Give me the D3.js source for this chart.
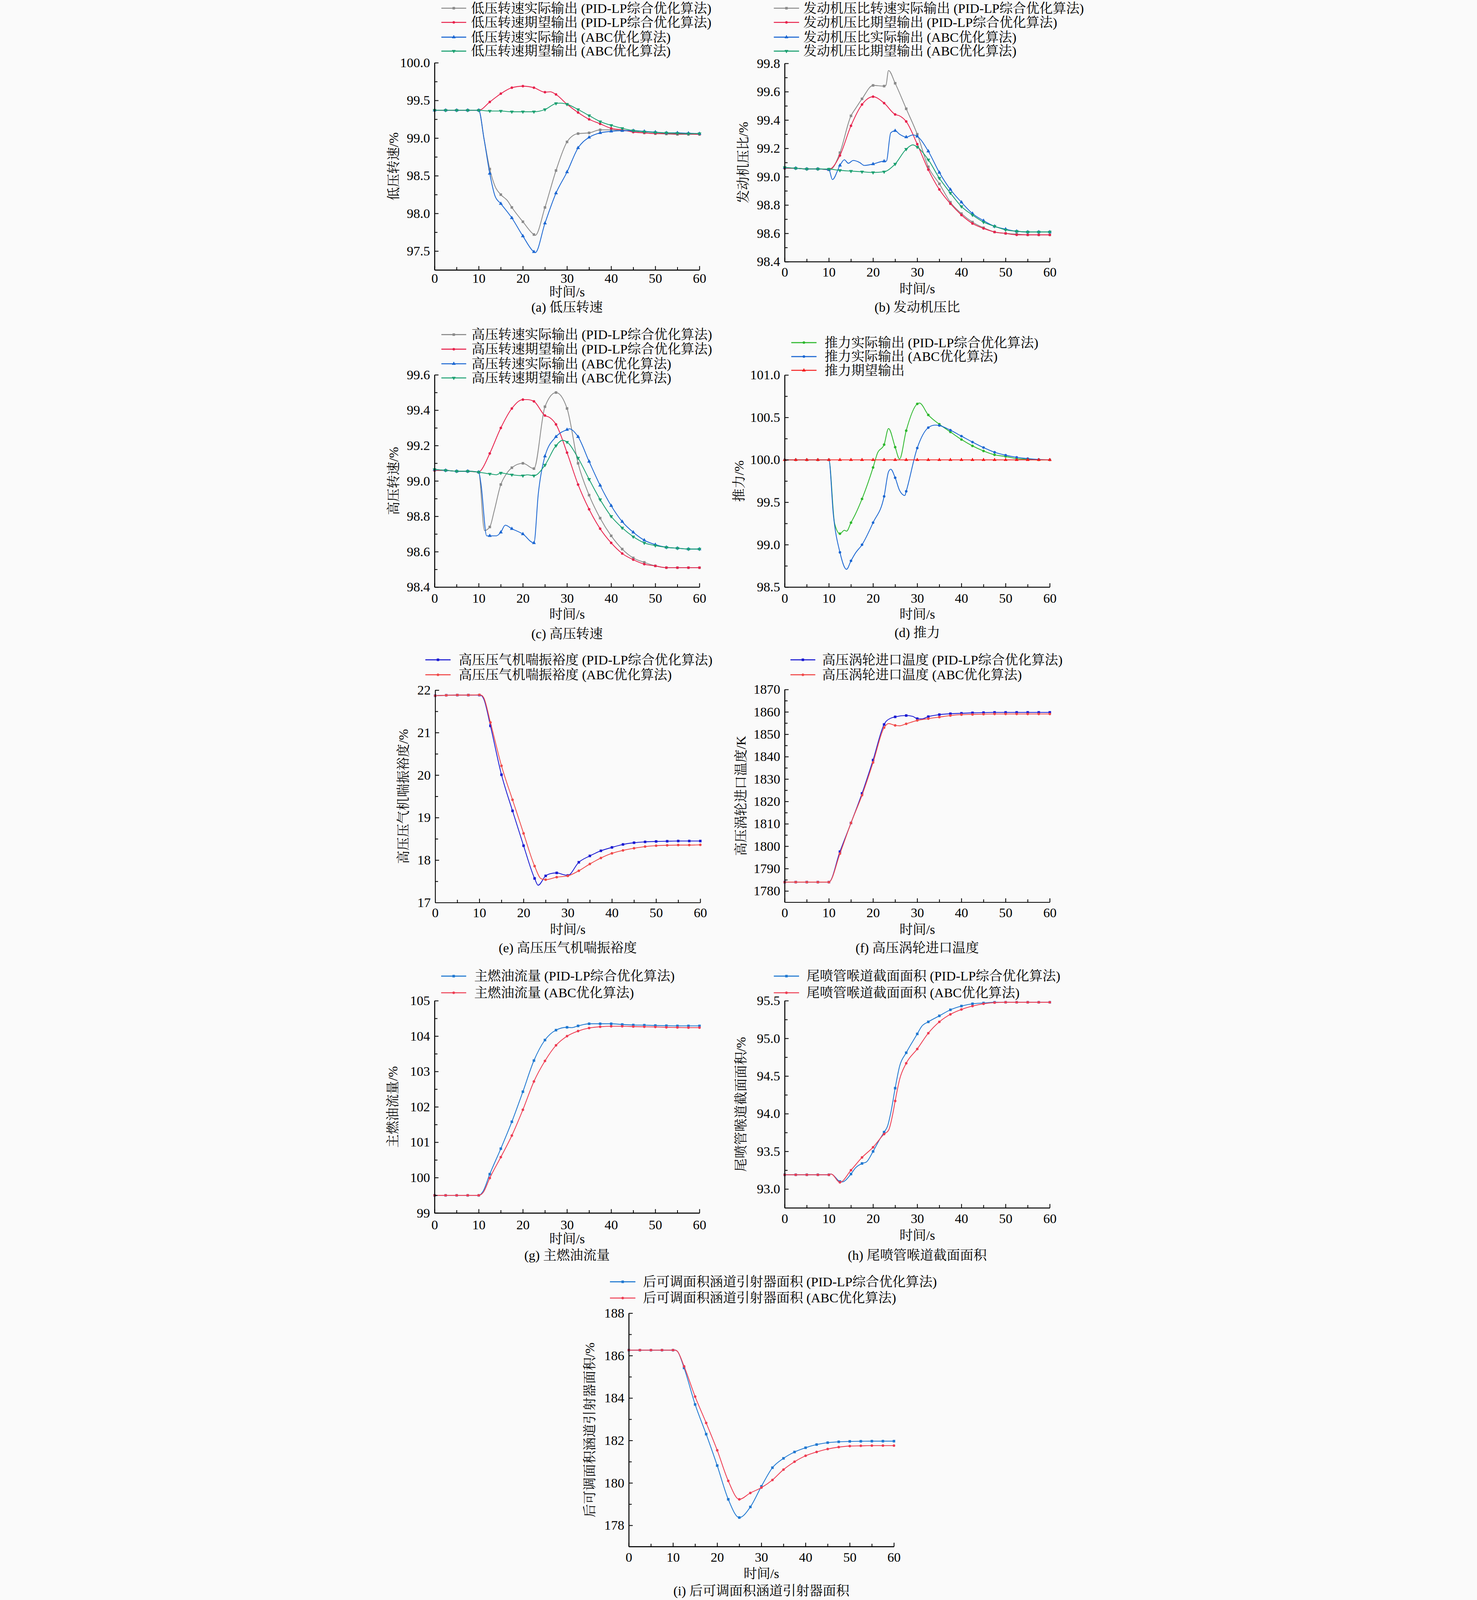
<!DOCTYPE html>
<html>
<head>
<meta charset="utf-8">
<script src="https://cdn.jsdelivr.net/npm/d3@7"></script>
<style>
  html, body { margin: 0; padding: 0; background: #fafafa; overflow: hidden; }
  svg { display: block; }
  svg text { font-family: "Liberation Serif", "Times New Roman", "Noto Serif CJK SC", "Noto Sans CJK SC", serif; fill: #000; }
</style>
</head>
<body>
<svg id="chart"></svg>
<script>
// ---- data ----
const timeTicks = [0, 10, 20, 30, 40, 50, 60];

// (a) 低压转速
const aTicks = [97.5, 98.0, 98.5, 99.0, 99.5, 100.0];
const aPidAct = [[0,99.37],[2.5,99.37],[5,99.37],[7.5,99.37],[10,99.37],[11.2,98.99],[12.5,98.59],[13.7,98.36],[15,98.25],[16.5,98.17],[17.5,98.08],[20,97.89],[22.5,97.72],[22.8,97.71],[25,98.08],[27.5,98.57],[30,98.95],[31.5,99.04],[32.5,99.06],[35,99.07],[37.5,99.11],[40,99.11],[42.5,99.10],[45,99.09],[47.5,99.07],[50,99.06],[52.5,99.055],[55,99.05],[57.5,99.05],[60,99.05]];
const aPidExp = [[0,99.37],[2.5,99.37],[5,99.37],[7.5,99.37],[10,99.37],[12.5,99.48],[15,99.59],[17.5,99.67],[20,99.69],[22.5,99.67],[25,99.61],[26.2,99.615],[27.5,99.58],[30,99.45],[32.5,99.34],[35,99.25],[37.5,99.19],[40,99.13],[42.5,99.11],[45,99.08],[47.5,99.07],[50,99.06],[52.5,99.06],[55,99.055],[57.5,99.055],[60,99.05]];
const aAbcAct = [[0,99.37],[2.5,99.37],[5,99.37],[7.5,99.37],[10,99.37],[11.2,98.99],[12.5,98.53],[13.7,98.23],[15,98.13],[17.5,97.94],[20,97.70],[22.5,97.49],[22.8,97.48],[25,97.87],[27.5,98.27],[30,98.55],[32.5,98.87],[35,99.01],[37.5,99.07],[40,99.09],[42.5,99.10],[45,99.10],[47.5,99.09],[50,99.08],[52.5,99.07],[55,99.07],[57.5,99.065],[60,99.06]];
const aAbcExp = [[0,99.37],[2.5,99.37],[5,99.37],[7.5,99.37],[10,99.37],[12.5,99.36],[15,99.36],[17.5,99.35],[20,99.35],[22.5,99.35],[25,99.38],[27.5,99.46],[28.5,99.465],[30,99.45],[32.5,99.38],[35,99.30],[37.5,99.22],[40,99.17],[42.5,99.13],[45,99.10],[47.5,99.085],[50,99.075],[52.5,99.07],[55,99.065],[57.5,99.06],[60,99.06]];

// (b) 发动机压比
const bTicks = [98.4, 98.6, 98.8, 99.0, 99.2, 99.4, 99.6, 99.8];
const bPidAct = [[0,99.06],[2.5,99.06],[5,99.055],[7.5,99.055],[10,99.05],[10.8,99.06],[12.5,99.17],[15,99.43],[16,99.48],[17.5,99.55],[20,99.645],[22.5,99.64],[22.9,99.645],[23.5,99.75],[25,99.66],[27.5,99.48],[30,99.30],[32.5,99.07],[35,98.95],[37.5,98.82],[40,98.74],[42.5,98.68],[45,98.64],[47.5,98.61],[50,98.60],[52.5,98.595],[55,98.59],[57.5,98.59],[60,98.59]];
const bPidExp = [[0,99.06],[2.5,99.06],[5,99.055],[7.5,99.055],[10,99.05],[10.6,99.06],[12.5,99.15],[15,99.36],[17.5,99.51],[20,99.565],[22.5,99.52],[25,99.44],[26,99.43],[27.5,99.39],[30,99.23],[32.5,99.05],[35,98.91],[37.5,98.81],[40,98.73],[42.5,98.67],[45,98.635],[47.5,98.61],[50,98.60],[52.5,98.59],[55,98.59],[57.5,98.59],[60,98.59]];
const bAbcAct = [[0,99.065],[2.5,99.06],[5,99.055],[7.5,99.055],[10,99.05],[10.8,98.98],[12.5,99.08],[13.5,99.12],[14.4,99.095],[15.5,99.115],[17,99.10],[18,99.08],[20,99.09],[22.5,99.11],[23,99.11],[24,99.31],[25,99.325],[26,99.30],[27.5,99.28],[29,99.295],[30,99.285],[32.5,99.18],[35,99.03],[37.5,98.91],[40,98.82],[42.5,98.74],[45,98.69],[47.5,98.65],[50,98.63],[52.5,98.615],[55,98.61],[57.5,98.61],[60,98.61]];
const bAbcExp = [[0,99.065],[2.5,99.06],[5,99.055],[7.5,99.055],[10,99.054],[12.5,99.045],[15,99.04],[17.5,99.035],[20,99.03],[22.5,99.035],[23,99.04],[25,99.09],[27.5,99.195],[29,99.225],[30,99.21],[32.5,99.12],[35,98.99],[37.5,98.885],[40,98.79],[42.5,98.73],[45,98.68],[47.5,98.65],[50,98.625],[52.5,98.615],[55,98.61],[57.5,98.61],[60,98.61]];

// (c) 高压转速
const cTicks = [98.4, 98.6, 98.8, 99.0, 99.2, 99.4, 99.6];
const cPidAct = [[0,99.06],[2.5,99.06],[5,99.055],[7.5,99.055],[10,99.05],[11.3,98.72],[12.5,98.74],[13.5,98.83],[15,98.98],[16,99.03],[17.5,99.075],[20,99.10],[22.5,99.07],[25,99.42],[27.5,99.50],[30,99.41],[32.5,99.10],[35,98.92],[37.5,98.79],[40,98.69],[42.5,98.615],[45,98.565],[47.5,98.54],[50,98.52],[52.5,98.51],[55,98.51],[57.5,98.51],[60,98.51]];
const cPidExp = [[0,99.06],[2.5,99.06],[5,99.055],[7.5,99.055],[10,99.05],[10.5,99.06],[12.5,99.156],[15,99.30],[17.5,99.41],[20,99.46],[21,99.46],[22.5,99.45],[25,99.37],[26,99.36],[27.5,99.32],[30,99.16],[32.5,98.98],[35,98.84],[37.5,98.73],[40,98.65],[42.5,98.59],[45,98.555],[47.5,98.53],[50,98.52],[52.5,98.51],[55,98.51],[57.5,98.51],[60,98.51]];
const cAbcAct = [[0,99.065],[2.5,99.06],[5,99.055],[7.5,99.055],[10,99.05],[10.5,98.985],[11.8,98.69],[12.5,98.69],[14,98.69],[15,98.71],[16,98.75],[17.5,98.73],[20,98.70],[22.5,98.65],[23.5,98.93],[25,99.14],[27.5,99.25],[30,99.29],[30.5,99.295],[32.5,99.25],[35,99.11],[37.5,98.975],[40,98.86],[42.5,98.77],[45,98.71],[47.5,98.665],[50,98.64],[52.5,98.625],[55,98.62],[57.5,98.615],[60,98.615]];
const cAbcExp = [[0,99.065],[2.5,99.06],[5,99.055],[7.5,99.055],[10,99.05],[12.5,99.04],[14,99.035],[15,99.045],[17.5,99.035],[20,99.03],[21,99.035],[22.5,99.03],[25,99.09],[27.5,99.20],[29,99.23],[30,99.22],[32.5,99.13],[35,99.01],[37.5,98.895],[40,98.80],[42.5,98.735],[45,98.685],[47.5,98.65],[50,98.635],[52.5,98.625],[55,98.62],[57.5,98.615],[60,98.615]];

// (d) 推力
const dTicks = [98.5, 99.0, 99.5, 100.0, 100.5, 101.0];
const dPidAct = [[0,100],[2.5,100],[5,100],[7.5,100],[10,100],[11.3,99.25],[12.5,99.13],[13.5,99.17],[14,99.16],[15,99.26],[16,99.36],[17.5,99.54],[20,99.91],[21,100.08],[22.5,100.18],[23.5,100.37],[25,100.15],[26,100.01],[27.5,100.345],[30,100.66],[30.5,100.67],[32.5,100.53],[35,100.42],[37.5,100.33],[40,100.24],[42.5,100.165],[45,100.105],[47.5,100.06],[50,100.04],[52.5,100.015],[55,100.007],[57.5,100],[60,100]];
const dAbcAct = [[0,100],[2.5,100],[5,100],[7.5,100],[10,100],[11,99.36],[12.5,98.91],[14,98.71],[15,98.81],[16,98.90],[17.5,99.0],[20,99.26],[22.5,99.57],[23.5,99.86],[24,99.89],[25,99.79],[26,99.64],[27.2,99.58],[27.5,99.63],[30,100.14],[32.5,100.38],[34,100.41],[35,100.405],[37.5,100.35],[40,100.28],[42.5,100.21],[45,100.145],[47.5,100.09],[50,100.055],[52.5,100.03],[55,100.015],[57.5,100.005],[60,100]];
const dExp = [[0,100],[2.5,100],[5,100],[7.5,100],[10,100],[12.5,100],[15,100],[17.5,100],[20,100],[22.5,100],[25,100],[27.5,100],[30,100],[32.5,100],[35,100],[37.5,100],[40,100],[42.5,100],[45,100],[47.5,100],[50,100],[52.5,100],[55,100],[57.5,100],[60,100]];

// (e) 高压压气机喘振裕度
const eTicks = [17, 18, 19, 20, 21, 22];
const ePid = [[0,21.87],[2.5,21.88],[5,21.885],[7.5,21.885],[10,21.885],[10.5,21.87],[11,21.79],[12.5,21.16],[15,20.01],[17.5,19.16],[20,18.34],[22.5,17.57],[23.3,17.41],[25,17.63],[26,17.68],[27.5,17.70],[29,17.66],[30,17.64],[32.5,17.95],[35,18.10],[37.5,18.22],[40,18.30],[42.5,18.37],[45,18.41],[47.5,18.43],[50,18.44],[52.5,18.445],[55,18.45],[57.5,18.45],[60,18.45]];
const eAbc = [[0,21.87],[2.5,21.88],[5,21.885],[7.5,21.885],[10,21.89],[10.5,21.88],[11,21.82],[12.5,21.24],[15,20.22],[17.5,19.42],[20,18.63],[22.5,17.86],[24,17.56],[25,17.54],[27.5,17.60],[30,17.63],[32.5,17.75],[35,17.91],[37.5,18.05],[40,18.16],[42.5,18.23],[45,18.28],[47.5,18.32],[50,18.34],[52.5,18.35],[55,18.355],[57.5,18.355],[60,18.36]];

// (f) 高压涡轮进口温度
const fTicks = [1780, 1790, 1800, 1810, 1820, 1830, 1840, 1850, 1860, 1870];
const fPid = [[0,1784],[2.5,1784],[5,1784],[7.5,1784],[10,1784],[12.5,1797.6],[15,1810.4],[17.5,1823.6],[20,1838.5],[22.5,1854.4],[23,1855.9],[25,1857.8],[27.5,1858.4],[29,1858],[30,1857],[31,1856.9],[32.5,1857.9],[35,1858.8],[37.5,1859.2],[40,1859.4],[42.5,1859.6],[45,1859.7],[47.5,1859.8],[50,1859.8],[52.5,1859.8],[55,1859.8],[57.5,1859.8],[60,1859.8]];
const fAbc = [[0,1784],[2.5,1784],[5,1784],[7.5,1784],[10,1784],[12.5,1796.7],[15,1810.4],[17.5,1822.8],[20,1837.4],[22.5,1853.0],[23.5,1854.8],[25,1854.0],[26,1853.8],[27.5,1854.7],[30,1856.2],[32.5,1857.0],[35,1857.7],[37.5,1858.4],[40,1858.8],[42.5,1858.9],[45,1859.0],[47.5,1859.1],[50,1859.1],[52.5,1859.1],[55,1859.1],[57.5,1859.1],[60,1859.1]];

// (g) 主燃油流量
const gTicks = [99, 100, 101, 102, 103, 104, 105];
const gPid = [[0,99.5],[2.5,99.5],[5,99.5],[7.5,99.5],[10,99.5],[11,99.62],[12.5,100.10],[15,100.82],[17.5,101.58],[20,102.43],[22.5,103.31],[25,103.89],[27.5,104.17],[30,104.25],[31,104.24],[32.5,104.29],[35,104.35],[37.5,104.35],[40,104.35],[42.5,104.33],[45,104.315],[47.5,104.31],[50,104.30],[52.5,104.295],[55,104.29],[57.5,104.29],[60,104.29]];
const gAbc = [[0,99.5],[2.5,99.5],[5,99.5],[7.5,99.5],[10,99.5],[11,99.58],[12.5,99.99],[15,100.58],[17.5,101.19],[20,101.92],[22.5,102.72],[25,103.30],[27.5,103.74],[30,104.0],[32.5,104.145],[35,104.23],[37.5,104.265],[40,104.28],[42.5,104.28],[45,104.27],[47.5,104.265],[50,104.26],[52.5,104.25],[55,104.245],[57.5,104.24],[60,104.24]];

// (h) 尾喷管喉道截面面积
const hTicks = [93.0, 93.5, 94.0, 94.5, 95.0, 95.5];
const hPid = [[0,93.19],[2.5,93.19],[5,93.19],[7.5,93.19],[10,93.19],[10.5,93.20],[12.5,93.10],[13,93.095],[15,93.20],[16,93.28],[17.5,93.34],[18.5,93.36],[20,93.50],[21.5,93.66],[22.5,93.756],[23.3,93.84],[24,94.01],[25,94.34],[26,94.63],[27.5,94.81],[30,95.06],[31,95.16],[32.5,95.22],[35,95.30],[37.5,95.38],[40,95.43],[42.5,95.46],[45,95.47],[47.5,95.48],[50,95.48],[52.5,95.48],[55,95.48],[57.5,95.48],[60,95.48]];
const hAbc = [[0,93.19],[2.5,93.19],[5,93.19],[7.5,93.19],[10,93.19],[10.5,93.20],[12.5,93.09],[15,93.25],[17.5,93.42],[20,93.555],[22.5,93.73],[23.5,93.78],[24.5,94.01],[25,94.17],[26,94.455],[27.5,94.67],[30,94.86],[32.5,95.07],[35,95.22],[37.5,95.32],[40,95.385],[42.5,95.43],[45,95.46],[47.5,95.475],[50,95.48],[52.5,95.48],[55,95.48],[57.5,95.48],[60,95.48]];

// (i) 后可调面积涵道引射器面积
const iTicks = [178, 180, 182, 184, 186, 188];
const iPid = [[0,186.26],[2.5,186.26],[5,186.26],[7.5,186.26],[10,186.26],[10.5,186.26],[11,186.2],[12.5,185.42],[15,183.70],[17.5,182.30],[20,180.82],[22.5,179.23],[25,178.37],[27.5,178.87],[30,179.84],[32.5,180.72],[35,181.16],[37.5,181.46],[40,181.66],[42.5,181.81],[45,181.90],[47.5,181.94],[50,181.96],[52.5,181.965],[55,181.97],[57.5,181.97],[60,181.97]];
const iAbc = [[0,186.26],[2.5,186.26],[5,186.26],[7.5,186.26],[10,186.26],[10.5,186.26],[11,186.2],[12.5,185.50],[15,184.07],[17.5,182.83],[20,181.54],[22.5,180.10],[25,179.23],[27.5,179.53],[30,179.78],[32.5,180.14],[35,180.63],[37.5,181.0],[40,181.28],[42.5,181.46],[45,181.60],[47.5,181.69],[50,181.74],[52.5,181.75],[55,181.76],[57.5,181.76],[60,181.76]];

// ---- styles ----
const C = {
  gray: '#8a8a8a', pink: '#e8224c', blue: '#1a66d2', teal: '#1aa070',
  green: '#2db82d', red: '#f51c1c', navy: '#1a1ad2', coral: '#f04a4a',
  sky: '#1f78d1', rose: '#ee3c52',
};
const FS = 65;
const PID = ' (PID-LP综合优化算法)';
const ABC = ' (ABC优化算法)';
const W = 3780, H = 7794;

const panels = [
  { box: [410, 1700, 306, 1315], domain: [97.25, 100], ticks: aTicks, fmt: '.1f', tickPad: 16,
    ylab: '低压转速/%', ylabX: 211, title: 1423, caption: '(a) 低压转速', capY: 1497,
    legend: { rows: [40, 109, 181, 249], line: [443, 564], text: 587 },
    series: [
      { data: aPidAct, color: C.gray, shape: 'square', label: '低压转速实际输出' + PID },
      { data: aPidExp, color: C.pink, shape: 'circle', label: '低压转速期望输出' + PID },
      { data: aAbcAct, color: C.blue, shape: 'up', label: '低压转速实际输出' + ABC },
      { data: aAbcExp, color: C.teal, shape: 'down', label: '低压转速期望输出' + ABC },
    ] },
  { box: [2115, 3406, 309, 1275], domain: [98.4, 99.8], ticks: bTicks, fmt: '.1f', tickPad: 26,
    ylab: '发动机压比/%', ylabX: 1914, title: 1408, caption: '(b) 发动机压比', capY: 1497,
    legend: { rows: [40, 109, 181, 249], line: [2062, 2185], text: 2206 },
    series: [
      { data: bPidAct, color: C.gray, shape: 'square', label: '发动机压比转速实际输出' + PID },
      { data: bPidExp, color: C.pink, shape: 'circle', label: '发动机压比期望输出' + PID },
      { data: bAbcAct, color: C.blue, shape: 'up', label: '发动机压比实际输出' + ABC },
      { data: bAbcExp, color: C.teal, shape: 'down', label: '发动机压比期望输出' + ABC },
    ] },
  { box: [410, 1700, 1826, 2860], domain: [98.4, 99.6], ticks: cTicks, fmt: '.1f', tickPad: 29,
    ylab: '高压转速/%', ylabX: 211, title: 2993, caption: '(c) 高压转速', capY: 3087,
    legend: { rows: [1630, 1701, 1772, 1841], line: [443, 564], text: 590 },
    series: [
      { data: cPidAct, color: C.gray, shape: 'square', label: '高压转速实际输出' + PID },
      { data: cPidExp, color: C.pink, shape: 'circle', label: '高压转速期望输出' + PID },
      { data: cAbcAct, color: C.blue, shape: 'up', label: '高压转速实际输出' + ABC },
      { data: cAbcExp, color: C.teal, shape: 'down', label: '高压转速期望输出' + ABC },
    ] },
  { box: [2115, 3406, 1827, 2860], domain: [98.5, 101.0], ticks: dTicks, fmt: '.1f', tickPad: 29,
    ylab: '推力/%', ylabX: 1892, title: 2993, caption: '(d) 推力', capY: 3082,
    legend: { rows: [1669, 1737, 1804], line: [2147, 2270], text: 2309 },
    series: [
      { data: dPidAct, color: C.green, shape: 'circle', label: '推力实际输出' + PID },
      { data: dAbcAct, color: C.blue, shape: 'circle', label: '推力实际输出' + ABC },
      { data: dExp, color: C.red, shape: 'up', label: '推力期望输出' },
    ] },
  { box: [413, 1704, 3362, 4397], domain: [17, 22], ticks: eTicks, fmt: 'd', tickPad: 25,
    ylab: '高压压气机喘振裕度/%', ylabX: 259, title: 4527, caption: '(e) 高压压气机喘振裕度', capY: 4617,
    legend: { rows: [3214, 3287], line: [365, 488], text: 527 },
    series: [
      { data: ePid, color: C.navy, shape: 'square', label: '高压压气机喘振裕度' + PID },
      { data: eAbc, color: C.coral, shape: 'circle', label: '高压压气机喘振裕度' + ABC },
    ] },
  { box: [2115, 3406, 3359, 4395], domain: [1775, 1870], ticks: fTicks, fmt: 'd', tickPad: 27,
    ylab: '高压涡轮进口温度/K', ylabX: 1902, title: 4527, caption: '(f) 高压涡轮进口温度', capY: 4617,
    legend: { rows: [3214, 3287], line: [2143, 2264], text: 2297 },
    series: [
      { data: fPid, color: C.navy, shape: 'square', label: '高压涡轮进口温度' + PID },
      { data: fAbc, color: C.coral, shape: 'circle', label: '高压涡轮进口温度' + ABC },
    ] },
  { box: [410, 1700, 4875, 5909], domain: [99, 105], ticks: gTicks, fmt: 'd', tickPad: 33,
    ylab: '主燃油流量/%', ylabX: 207, title: 6034, caption: '(g) 主燃油流量', capY: 6115,
    legend: { rows: [4755, 4836], line: [442, 564], text: 603 },
    series: [
      { data: gPid, color: C.sky, shape: 'square', label: '主燃油流量' + PID },
      { data: gAbc, color: C.rose, shape: 'circle', label: '主燃油流量' + ABC },
    ] },
  { box: [2115, 3406, 4875, 5884], domain: [92.75, 95.5], ticks: hTicks, fmt: '.1f', tickPad: 28,
    ylab: '尾喷管喉道截面面积/%', ylabX: 1902, title: 6018, caption: '(h) 尾喷管喉道截面面积', capY: 6115,
    legend: { rows: [4755, 4836], line: [2062, 2185], text: 2221 },
    series: [
      { data: hPid, color: C.sky, shape: 'square', label: '尾喷管喉道截面面积' + PID },
      { data: hAbc, color: C.rose, shape: 'circle', label: '尾喷管喉道截面面积' + ABC },
    ] },
  { box: [1356, 2647, 6397, 7534], domain: [177, 188], ticks: iTicks, fmt: 'd', tickPad: 28,
    ylab: '后可调面积涵道引射器面积/%', ylabX: 1166, title: 7665, caption: '(i) 后可调面积涵道引射器面积', capY: 7749,
    legend: { rows: [6244, 6323], line: [1264, 1388], text: 1425 },
    series: [
      { data: iPid, color: C.sky, shape: 'square', label: '后可调面积涵道引射器面积' + PID },
      { data: iAbc, color: C.rose, shape: 'circle', label: '后可调面积涵道引射器面积' + ABC },
    ] },
];

// the window we get may be shorter than the figure, so fit the whole figure into it
const vw = window.innerWidth || W, vh = window.innerHeight || H;
const svg = d3.select('#chart')
  .attr('width', vw).attr('height', vh)
  .attr('viewBox', `0 0 ${W} ${H}`)
  .attr('preserveAspectRatio', 'xMidYMin meet');
svg.append('rect').attr('width', W).attr('height', H).attr('fill', '#fafafa');

const symbolPath = {
  square: d3.symbol(d3.symbolSquare, 150)(),
  circle: d3.symbol(d3.symbolCircle, 120)(),
  up: d3.symbol(d3.symbolTriangle, 150)(),
  down: d3.symbol(d3.symbolTriangle, 150)(),
};

const midpoints = arr => arr.slice(1).map((v, i) => (v + arr[i]) / 2);
const onGrid = t => Math.abs(t / 2.5 - Math.round(t / 2.5)) < 1e-6;

function marker(g, shape, color, cx, cy) {
  g.append('path')
    .attr('d', symbolPath[shape])
    .attr('transform', `translate(${cx},${cy})` + (shape === 'down' ? ' rotate(180)' : ''))
    .attr('fill', color);
}

function styleAxis(g) {
  g.select('.domain').attr('stroke', '#000').attr('stroke-width', 4);
  g.selectAll('.tick line').attr('stroke', '#000').attr('stroke-width', 4);
  g.selectAll('.tick text').attr('font-size', FS).attr('fill', '#000');
}

panels.forEach(p => {
  const [x0, x1, yTop, yBot] = p.box;
  const x = d3.scaleLinear().domain([0, 60]).range([x0, x1]);
  const y = d3.scaleLinear().domain(p.domain).range([yBot, yTop]);
  const g = svg.append('g');

  // series
  const line = d3.line()
    .x(d => x(d[0]))
    .y(d => y(d[1]))
    .curve(d3.curveMonotoneX);
  p.series.forEach(s => {
    g.append('path')
      .attr('d', line(s.data))
      .attr('fill', 'none')
      .attr('stroke', s.color)
      .attr('stroke-width', 4)
      .attr('stroke-linejoin', 'round');
    s.data.filter(d => onGrid(d[0]))
      .forEach(d => marker(g, s.shape, s.color, x(d[0]), y(d[1])));
  });

  // axes (ticks point inward)
  const minorY = midpoints(p.ticks);
  g.append('g').attr('transform', `translate(${x0},0)`)
    .call(d3.axisLeft(y).tickValues(minorY).tickSize(-14).tickSizeOuter(0).tickFormat(''))
    .call(styleAxis);
  g.append('g').attr('transform', `translate(${x0},0)`)
    .call(d3.axisLeft(y).tickValues(p.ticks).tickSize(-19).tickSizeOuter(0)
      .tickPadding(22).tickFormat(d3.format(p.fmt)))
    .call(styleAxis);
  g.append('g').attr('transform', `translate(0,${yBot})`)
    .call(d3.axisBottom(x).tickValues(midpoints(timeTicks)).tickSize(-14).tickSizeOuter(0).tickFormat(''))
    .call(styleAxis);
  g.append('g').attr('transform', `translate(0,${yBot})`)
    .call(d3.axisBottom(x).tickValues(timeTicks).tickSize(-19).tickSizeOuter(0)
      .tickPadding(p.tickPad).tickFormat(d3.format('d')))
    .call(styleAxis);

  // labels
  g.append('text')
    .attr('transform', `translate(${p.ylabX},${(yTop + yBot) / 2}) rotate(-90)`)
    .attr('text-anchor', 'middle')
    .attr('dominant-baseline', 'central')
    .attr('font-size', FS)
    .text(p.ylab);
  g.append('text')
    .attr('x', (x0 + x1) / 2).attr('y', p.title)
    .attr('text-anchor', 'middle').attr('dominant-baseline', 'central')
    .attr('font-size', FS)
    .text('时间/s');
  g.append('text')
    .attr('x', (x0 + x1) / 2).attr('y', p.capY)
    .attr('text-anchor', 'middle').attr('dominant-baseline', 'central')
    .attr('font-size', FS)
    .text(p.caption);

  // legend
  const lg = p.legend;
  p.series.forEach((s, i) => {
    const ry = lg.rows[i];
    g.append('line')
      .attr('x1', lg.line[0]).attr('x2', lg.line[1])
      .attr('y1', ry).attr('y2', ry)
      .attr('stroke', s.color).attr('stroke-width', 5);
    marker(g, s.shape, s.color, (lg.line[0] + lg.line[1]) / 2, ry);
    g.append('text')
      .attr('x', lg.text).attr('y', ry)
      .attr('dominant-baseline', 'central')
      .attr('font-size', FS)
      .text(s.label);
  });
});
</script>
</body>
</html>
